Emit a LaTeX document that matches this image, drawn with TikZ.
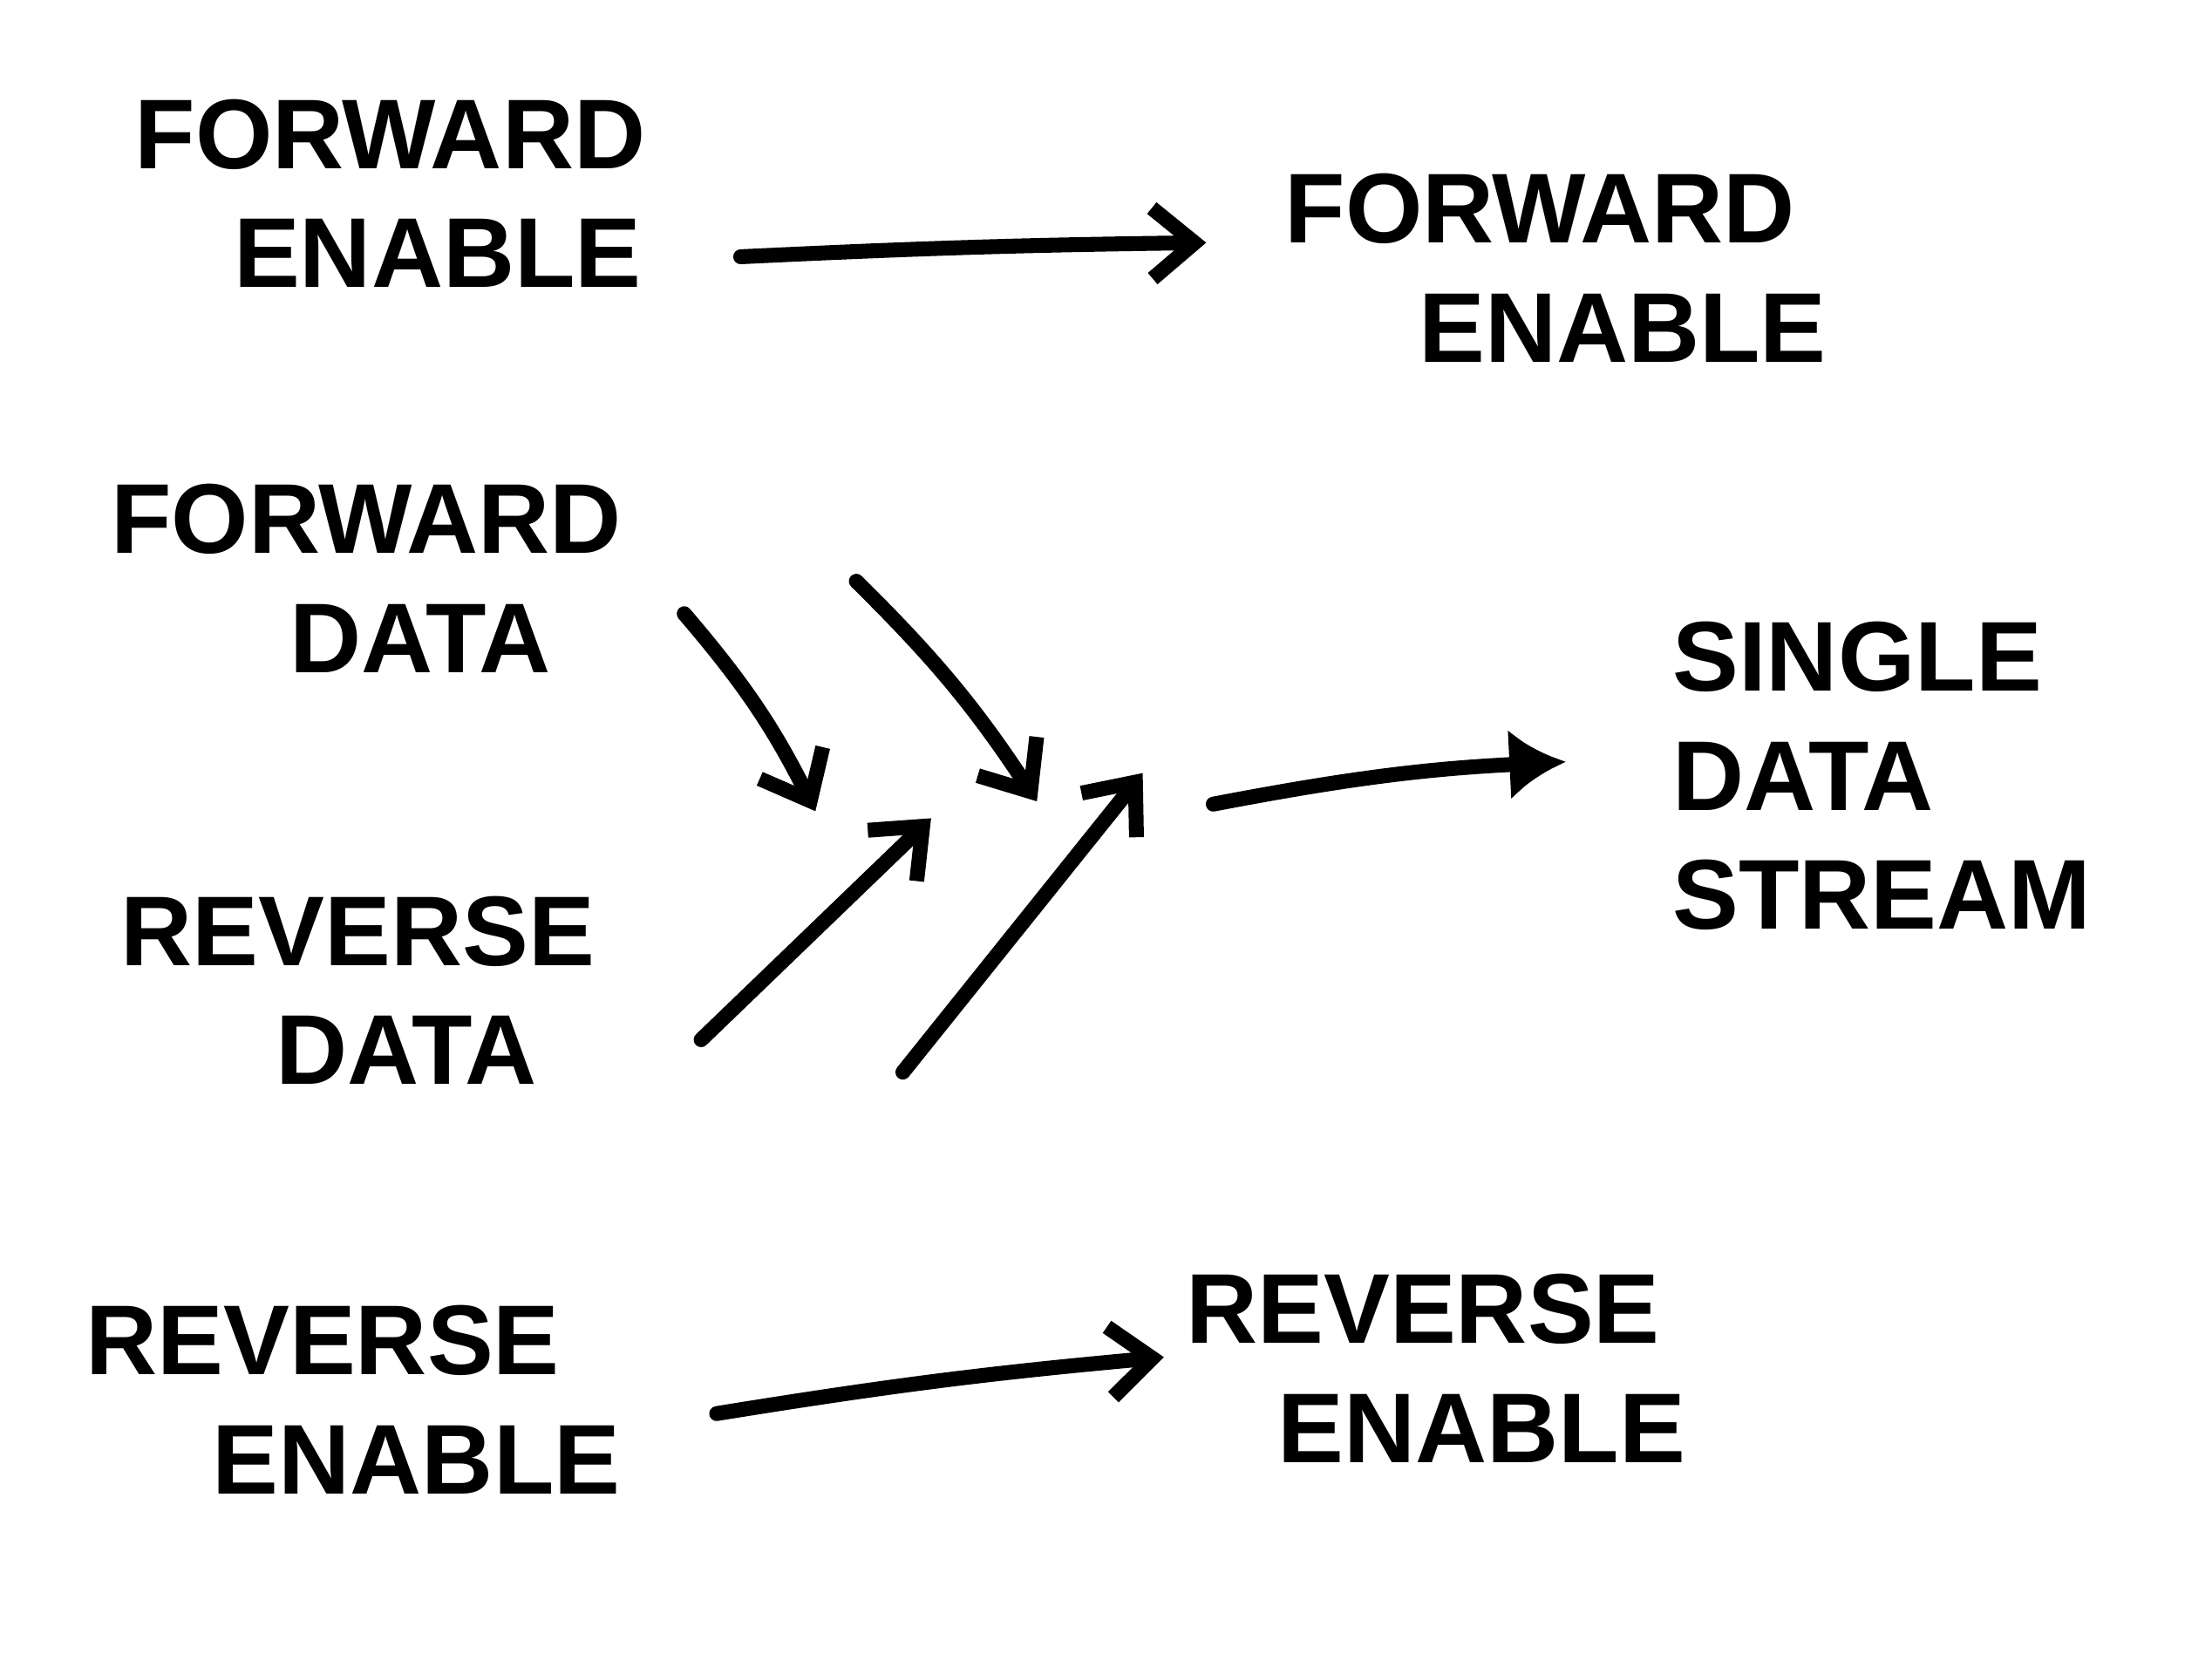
\documentclass[tikz,border=0pt]{standalone}
\usepackage{fontspec}
\setmainfont{Liberation Sans}
\usetikzlibrary{arrows.meta}

\begin{document}
\begin{tikzpicture}[
    every node/.style={font=\bfseries\fontsize{20}{24}\selectfont},
    label/.style={
        anchor=west,
        align=left,
        inner sep=0pt
    },
    arrow/.style={
        -{Straight Barb[length=3mm,width=5mm,line width=3pt]},
        line width=3pt,
        line cap=round
    },
    blob/.style={
        -{Latex[length=4mm,width=5mm]},
        line width=3pt,
        line cap=round
    }
]

\useasboundingbox (0,0) rectangle (15.68,11.77);

% labels
\node[label] (fwdEnIn) at (0.95,10.40) {FORWARD\\\hspace*{0.7cm}ENABLE};
\node[label] (fwdEnOut) at (9.10,9.87) {FORWARD\\\hspace*{0.95cm}ENABLE};
\node[label] (fwdData) at (0.78,7.67) {FORWARD\\\hspace*{1.27cm}DATA};
\node[label] (revData) at (0.85,4.75) {REVERSE\\\hspace*{1.1cm}DATA};
\node[label] (single) at (11.85,6.27) {SINGLE\\DATA\\STREAM};
\node[label] (revEnIn) at (0.60,1.85) {REVERSE\\\hspace*{0.9cm}ENABLE};
\node[label] (revEnOut) at (8.40,2.07) {REVERSE\\\hspace*{0.65cm}ENABLE};

% arrow ends
\coordinate (fwdEnA) at (5.25,9.95);
\coordinate (fwdEnB) at (8.55,10.05);
\coordinate (revEnA) at (5.08,1.75);
\coordinate (revEnB) at (8.25,2.15);
\coordinate (fdA1) at (4.85,7.42);
\coordinate (fdB1) at (5.78,6.02);
\coordinate (fdA2) at (6.07,7.65);
\coordinate (fdB2) at (7.35,6.09);
\coordinate (rdA1) at (4.97,4.40);
\coordinate (rdB1) at (6.60,5.97);
\coordinate (rdA2) at (6.40,4.17);
\coordinate (rdB2) at (8.10,6.29);
\coordinate (outA) at (8.60,6.07);
\coordinate (outB) at (11.10,6.37);

\draw[arrow] (fwdEnA) to[bend left=1] (fwdEnB);
\draw[arrow] (revEnA) to[bend left=2] (revEnB);
\draw[arrow] (fdA1) to[bend left=7] (fdB1);
\draw[arrow] (fdA2) to[bend left=6] (fdB2);
\draw[arrow] (rdA1) -- (rdB1);
\draw[arrow] (rdA2) -- (rdB2);
\draw[blob] (outA) to[bend left=4] (outB);

\end{tikzpicture}
\end{document}
